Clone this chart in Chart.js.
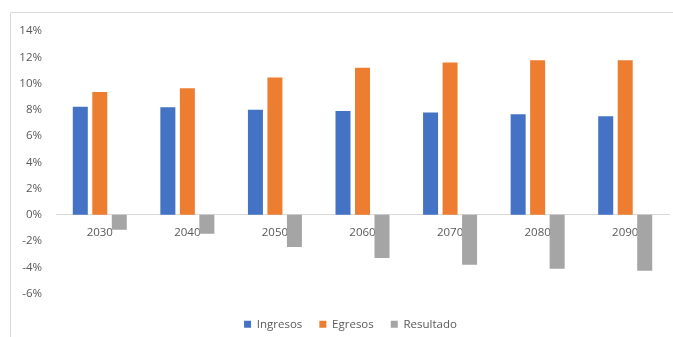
<!DOCTYPE html>
<html>
<head>
<meta charset="utf-8">
<script src="https://cdn.jsdelivr.net/npm/chart.js@4.4.1/dist/chart.umd.min.js"></script>
<style>
  html, body { margin: 0; padding: 0; background: #ffffff; }
  #wrap { width: 673px; height: 337px; }
</style>
</head>
<body>
<div id="wrap"><canvas id="c" width="673" height="337"></canvas></div>
<script>
// Years on the category axis
const years = ['2030', '2040', '2050', '2060', '2070', '2080', '2090'];

// Shares in percent
const ingresos  = [8.22, 8.20, 8.00, 7.90, 7.80, 7.66, 7.50];
const egresos   = [9.36, 9.64, 10.45, 11.20, 11.60, 11.77, 11.77];
const resultado = [-1.14, -1.44, -2.45, -3.30, -3.80, -4.11, -4.27];

// Value axis bounds and step (percent)
const yMin = -6, yMax = 14, yStep = 2;

const FONT = "'Open Sans', 'Noto Sans', sans-serif";
const TEXT = '#595959';
const LINE = '#d9d9d9';

// Thin frame around the chart (left and top edges are visible)
const framePlugin = {
  id: 'frame',
  beforeDraw(chart) {
    const ctx = chart.ctx;
    ctx.save();
    ctx.strokeStyle = LINE;
    ctx.lineWidth = 1;
    ctx.beginPath();
    ctx.moveTo(10.5, chart.height + 2);
    ctx.lineTo(10.5, 12.5);
    ctx.lineTo(chart.width + 2, 12.5);
    ctx.stroke();
    ctx.restore();
  }
};

// Nudge the legend block a little to the right, under the plot
const legendShift = {
  id: 'legendShift',
  afterLayout(chart) {
    const lg = chart.legend;
    if (!lg) return;
    const dx = 11;
    lg.left += dx;
    lg.right += dx;
    if (lg.legendHitBoxes) lg.legendHitBoxes.forEach(b => { b.left += dx; });
  }
};

new Chart(document.getElementById('c'), {
  type: 'bar',
  data: {
    labels: years,
    datasets: [
      { label: 'Ingresos',  data: ingresos,  backgroundColor: '#4472C4' },
      { label: 'Egresos',   data: egresos,   backgroundColor: '#ED7D31' },
      { label: 'Resultado', data: resultado, backgroundColor: '#A5A5A5' }
    ]
  },
  options: {
    responsive: false,
    animation: false,
    devicePixelRatio: 1,
    layout: { padding: { left: 10, right: 4, top: 31, bottom: -3 } },
    datasets: {
      bar: { categoryPercentage: 0.668, barPercentage: 0.77 }
    },
    plugins: {
      tooltip: { enabled: false },
      legend: {
        position: 'bottom',
        title: { display: true, text: '', padding: 0, font: { size: 8, lineHeight: 1 } },
        labels: {
          boxWidth: 7,
          boxHeight: 7,
          padding: 17,
          color: TEXT,
          font: { family: FONT, size: 11.5 }
        }
      }
    },
    scales: {
      x: {
        position: { y: 0 },
        z: 1,
        grid: { display: false, drawTicks: false },
        border: { display: true, color: LINE, width: 1 },
        ticks: {
          color: TEXT,
          padding: 11,
          font: { family: FONT, size: 11.5 }
        }
      },
      y: {
        min: yMin,
        max: yMax,
        grid: { display: false, drawTicks: false },
        border: { display: false },
        afterFit(scale) { scale.width = 46; },
        ticks: {
          stepSize: yStep,
          padding: 14,
          color: TEXT,
          font: { family: FONT, size: 11.5 },
          callback: v => v + '%'
        }
      }
    }
  },
  plugins: [framePlugin, legendShift]
});
</script>
</body>
</html>
